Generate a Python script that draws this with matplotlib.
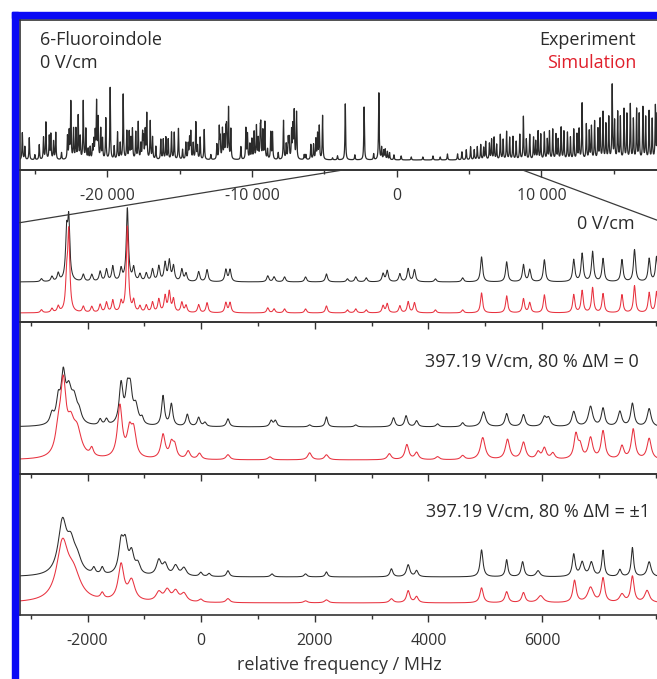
import matplotlib
matplotlib.use("Agg")
import matplotlib.pyplot as plt
import numpy as np
from matplotlib.patches import Rectangle, ConnectionPatch
from matplotlib.ticker import MultipleLocator, FuncFormatter

plt.rcParams['font.family'] = ['Open Sans', 'DejaVu Sans']
plt.rcParams['axes.unicode_minus'] = False

# ---- overview spectrum, 0 V/cm (peak positions in MHz, heights in px) ----
top_pos = [-25880, -25400, -24710, -24250, -24020, -23910, -23570, -22760, -22530,
           -22340, -22180, -22020, -21670, -21490, -21030, -20750, -20640, -20460,
           -20110, -19810, -19300, -18910, -18660, -18270, -18040, -17870, -17570,
           -17280, -17040, -16880, -16310, -16140, -15960, -15570, -15380, -15090,
           -14580, -14240, -13890, -13590, -13310, -12270, -12050, -11820, -11630,
           -11470, -10430, -10320, -9860, -9700, -9400, -9120, -8710, -8590, -7830,
           -7440, -7090, -6930, -6400, -5940, -5360, -5130, -4440, -4100, -3560,
           -2900, -2260, -1600, -1240, -800, -500, -200, 300, 1000, 1800, 2500,
           3000, 3500, 4200, 4800, 5100, 5563, 6144, 6724, 7153, 7588, 8024, 8749,
           9185, 9765, 10196, 10776, 11356, 11791, 12227, 12806, 13097, 13670,
           14250, 14886, 15266, 15701, 16137, 16572, 17007, 17436, 17871,
           # weaker lines and band-head tails
           -25706, -25015, -24416, -23725, -23172, -22642, -21881, -21329, -21190,
           -20937, -20845, -20338, -19532, -19116, -18495, -18380, -17688, -17504,
           -17389, -16652, -15799, -14808, -14417, -14324, -14071, -13772, -12850,
           -12435, -12205, -11929, -11767, -10776, -10154, -10016, -9578, -9440,
           -9256, -8933, -8196, -7643, -7505, -7274, -7182, -6284, -5754, -5592,
           -5477, -1050, -900, -650, 4500, 5350, 5800, 6000, 6400, 6550, 6900, 7350,
           7800, 8250, 8500, 8950, 9450, 9600, 9950, 10400, 10550, 11000, 11150,
           11550, 12000, 12450, 12600, 13300, 13450, 13900, 14050, 14450, 14650,
           15050, 15450, 15900, 16350, 16750, 17200, 17650, 18000]
top_amp = [27, 22, 15, 37, 23, 25, 27, 23, 57, 30, 30, 43, 58, 30, 13, 56, 40, 30,
           41, 72, 27, 65, 28, 30, 27, 37, 25, 45, 38, 22, 20, 20, 22, 27, 27, 31,
           17, 27, 37, 22, 30, 31, 30, 27, 51, 30, 31, 25, 27, 33, 30, 37, 27, 27,
           39, 20, 47, 47, 5, 15, 33, 44, 2, 4, 56, 5, 53, 6, 67, 10, 7, 5, 4, 3, 3,
           4, 3, 6, 6, 10, 13, 13, 18, 22, 25, 28, 23, 43, 25, 28, 27, 30, 32, 27,
           30, 56, 35, 38, 47, 74, 47, 50, 55, 50, 52, 48, 53,
           13, 5, 22, 18, 7, 27, 22, 10, 12, 18, 25, 20, 13, 16, 27, 20, 15, 20,
           28, 13, 20, 10, 15, 20, 16, 13, 5, 15, 20, 22, 30, 13, 15, 20, 20, 25,
           28, 10, 7, 15, 20, 28, 32, 5, 15, 20, 25, 12, 9, 8, 8, 10, 15, 12, 16,
           20, 15, 20, 22, 18, 25, 20, 22, 18, 25, 20, 28, 25, 20, 28, 22, 25, 30,
           28, 33, 30, 40, 35, 42, 38, 42, 45, 40, 45, 42, 40, 45]

# ---- zoomed spectrum, 0 V/cm ----
p2_pos = [-2813, -2629, -2518, -2370, -2333, -2076, -1928, -1780, -1669, -1558,
          -1412, -1301, -1190, -1079, -968, -858, -747, -637, -563, -489, -342,
          -268, -46, 102, 433, 507, 1171, 1282, 1467, 1836, 2204, 2574, 2720, 2905,
          3201, 3274, 3496, 3643, 3754, 4123, 4602, 4935, 5377, 5673, 5783, 6041,
          6558, 6706, 6890, 7074, 7407, 7628, 7886, 8016]
p2_exp = [3, 5, 8, 45, 58, 7, 7, 10, 12, 15, 12, 73, 13, 7, 8, 12, 15, 18, 20, 15,
          12, 8, 10, 12, 12, 12, 6, 5, 5, 5, 8, 3, 5, 4, 8, 11, 8, 13, 12, 3, 4, 25,
          20, 17, 12, 22, 22, 28, 30, 23, 22, 32, 23, 25]
p2_sim = [3, 4, 6, 30, 78, 6, 6, 8, 10, 12, 10, 86, 11, 6, 7, 10, 13, 16, 20, 13,
          10, 7, 8, 10, 10, 10, 5, 4, 4, 4, 7, 3, 4, 3, 7, 9, 7, 11, 10, 3, 3, 20,
          17, 14, 10, 18, 18, 22, 25, 19, 18, 27, 20, 21]

# ---- 397.19 V/cm, Delta M = 0 ----
p3e_pos = [-2629, -2518, -2430, -2333, -2238, -2150, -1780, -1669, -1412, -1301,
           -1249, -1153, -1042, -673, -526, -245, -46, 65, 470, 1231, 1305, 1908,
           2204, 2720, 3385, 3606, 3791, 4160, 4602, 4970, 5377, 5673, 6041, 6115,
           6558, 6854, 7074, 7370, 7591, 7886]
p3e_amp = [10, 22, 45, 30, 22, 10, 6, 6, 40, 30, 30, 18, 6, 30, 22, 12, 9, 4, 8, 6,
           6, 2, 10, 2, 9, 11, 6, 3, 4, 15, 13, 12, 9, 8, 15, 20, 18, 15, 23, 18]
p3e_wid = [40, 40, 45, 60, 60, 50, 30, 30, 40, 40, 40, 50, 30, 30, 30, 30, 30, 30,
           30, 30, 30, 30, 25, 30, 30, 30, 30, 30, 30, 45, 35, 35, 40, 40, 40, 45,
           35, 40, 35, 40]
p3s_pos = [-2518, -2430, -2297, -2186, -1928, -1433, -1264, -1190, -673, -526,
           -467, -230, -31, 470, 1208, 1908, 2204, 3311, 3620, 3791, 4160, 4602,
           4956, 5392, 5673, 5930, 6041, 6190, 6596, 6670, 6854, 7074, 7407, 7605,
           7886]
p3s_amp = [20, 70, 25, 25, 8, 52, 25, 25, 24, 14, 12, 8, 6, 5, 3, 7, 5, 6, 15, 7,
           3, 4, 22, 20, 17, 7, 11, 6, 24, 12, 21, 28, 13, 30, 21]
p3s_wid = [60, 60, 70, 90, 35, 50, 50, 50, 45, 40, 40, 40, 40, 40, 40, 40, 40, 40,
           40, 40, 40, 40, 50, 45, 45, 40, 40, 40, 40, 40, 45, 40, 40, 40, 45]

# ---- 397.19 V/cm, Delta M = +-1 ----
p4e_pos = [-2444, -2297, -2186, -1891, -1743, -1412, -1338, -1227, -1116, -747,
           -637, -452, -305, -9, 139, 470, 1245, 1836, 2204, 3348, 3643, 3791, 4935,
           5377, 5658, 5930, 6558, 6706, 6868, 7074, 7370, 7591, 7886]
p4e_amp = [52, 25, 14, 6, 7, 30, 28, 20, 10, 15, 11, 10, 8, 4, 3, 6, 3, 3, 5, 8,
           12, 6, 27, 17, 15, 6, 22, 14, 14, 26, 7, 29, 15]
p4e_wid = [90, 80, 90, 30, 30, 50, 50, 50, 50, 50, 50, 50, 50, 30, 30, 30, 30, 30,
           25, 30, 35, 30, 30, 25, 30, 40, 30, 40, 40, 25, 30, 25, 40]
p4s_pos = [-2444, -2250, -1743, -1412, -1227, -747, -600, -452, -305, -9, 470,
           1836, 2204, 3348, 3643, 3791, 4935, 5377, 5673, 5975, 6572, 6854, 7074,
           7407, 7591, 7849]
p4s_amp = [55, 25, 6, 36, 20, 9, 11, 10, 8, 3, 4, 2, 3, 4, 12, 6, 15, 11, 10, 7,
           22, 15, 24, 8, 26, 12]
p4s_wid = [120, 150, 35, 60, 70, 60, 60, 60, 60, 40, 40, 40, 40, 40, 35, 35, 35,
           35, 35, 60, 35, 60, 35, 50, 35, 50]

top_ticks = [-20000, -10000, 0, 10000]
bot_ticks = [-2000, 0, 2000, 4000, 6000]

BLACK = '#2b2b2b'
RED = '#e8323f'
W, H = 657, 679


def spectrum(x, pos, amp, wid):
    """sum of lorentzian lines"""
    y = np.zeros_like(x)
    wid = np.broadcast_to(wid, (len(pos),))
    for p, a, w in zip(pos, amp, wid):
        y += a * w**2 / ((x - p)**2 + w**2)
    return y


def fx(px):
    return px / W


def fy(py):
    return 1 - py / H


fig = plt.figure(figsize=(W / 100, H / 100), dpi=100)

# blue selection frame of the screenshot
fig.patches.append(Rectangle((fx(12), fy(17.5)), 1, 5.5 / H, transform=fig.transFigure,
                             color='#0a0af5', zorder=0))
fig.patches.append(Rectangle((fx(12), 0), 5.5 / W, fy(12), transform=fig.transFigure,
                             color='#0a0af5', zorder=0))

left = fx(19.5)
width = 640 / W
ax1 = fig.add_axes([left, fy(170), width, 150.5 / H])
ax2 = fig.add_axes([left, fy(322), width, 152 / H])
ax3 = fig.add_axes([left, fy(474), width, 152 / H])
ax4 = fig.add_axes([left, fy(615), width, 141 / H])

top_lim = (-26075, 18155)
bot_lim = (-3200, 8068)

x_top = np.linspace(*top_lim, 12000)
x_bot = np.linspace(*bot_lim, 5000)

ax1.plot(x_top, 10 + spectrum(x_top, top_pos, top_amp, 26), color=BLACK, lw=0.9)
ax1.set_ylim(0, 150.5)

ax2.plot(x_bot, 40 + spectrum(x_bot, p2_pos, p2_exp, 22), color=BLACK, lw=0.75)
ax2.plot(x_bot, 9 + spectrum(x_bot, p2_pos, p2_sim, 22), color=RED, lw=0.75)
ax2.set_ylim(0, 152)

ax3.plot(x_bot, 47 + spectrum(x_bot, p3e_pos, p3e_amp, p3e_wid), color=BLACK, lw=0.75)
ax3.plot(x_bot, 14 + spectrum(x_bot, p3s_pos, p3s_amp, p3s_wid), color=RED, lw=0.75)
ax3.set_ylim(0, 152)

ax4.plot(x_bot, 38 + spectrum(x_bot, p4e_pos, p4e_amp, p4e_wid), color=BLACK, lw=0.75)
ax4.plot(x_bot, 12 + spectrum(x_bot, p4s_pos, p4s_amp, p4s_wid), color=RED, lw=0.75)
ax4.set_ylim(0, 141)

fmt_space = FuncFormatter(lambda v, _: f'{int(v):,}'.replace(',', ' '))

for ax in (ax1, ax2, ax3, ax4):
    ax.set_yticks([])
    for s in ax.spines.values():
        s.set_color('#333333')
        s.set_linewidth(1.2)
    ax.tick_params(axis='x', which='major', direction='out', length=5, width=1,
                   color='#333333', labelsize=11.5, labelcolor='#333333', pad=8)
    ax.tick_params(axis='x', which='minor', direction='out', length=3, width=1,
                   color='#333333')
    ax.patch.set_alpha(0)

ax1.set_xlim(*top_lim)
ax1.set_xticks(top_ticks)
ax1.xaxis.set_minor_locator(MultipleLocator(5000))
ax1.xaxis.set_major_formatter(fmt_space)

for ax in (ax2, ax3, ax4):
    ax.set_xlim(*bot_lim)
    ax.set_xticks(bot_ticks)
    ax.xaxis.set_minor_locator(MultipleLocator(1000))
for ax in (ax2, ax3):
    ax.tick_params(axis='x', labelbottom=False)
ax4.set_xlabel('relative frequency / MHz', fontsize=13, color='#333333', labelpad=5)

# zoom lines from the overview to the 0 V/cm panel
for xa, xb, yb in ((-3730, 0, 0.653), (8690, 1, 0.664)):
    con = ConnectionPatch(xyA=(xa, 0), coordsA=ax1.transData,
                          xyB=(xb, yb), coordsB=ax2.transAxes,
                          color='#3a3a3a', lw=0.9)
    fig.add_artist(con)

txt = dict(fontsize=13, color='#2b2b2b')
fig.text(fx(40), fy(40), '6-Fluoroindole', ha='left', va='center', **txt)
fig.text(fx(40), fy(63), '0 V/cm', ha='left', va='center', **txt)
fig.text(fx(636), fy(40), 'Experiment', ha='right', va='center', **txt)
fig.text(fx(636), fy(63), 'Simulation', ha='right', va='center', fontsize=13, color='#e0202c')
fig.text(fx(635), fy(224), '0 V/cm', ha='right', va='center', **txt)
fig.text(fx(639), fy(362), '397.19 V/cm, 80 % \u0394M = 0', ha='right', va='center', **txt)
fig.text(fx(650), fy(512), '397.19 V/cm, 80 % \u0394M = \u00b11', ha='right', va='center', **txt)

fig.savefig('out.png', dpi=100)
